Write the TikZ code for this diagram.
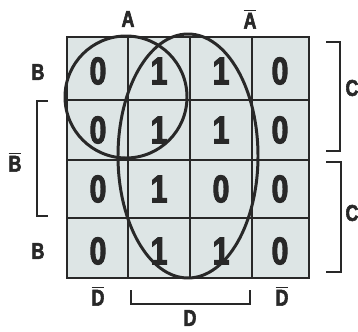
\documentclass[tikz,border=0pt]{standalone}
\usepackage{fontspec}
\setmainfont{Liberation Sans}[FakeStretch=0.78, BoldFeatures={FakeBold=2.5}]
\usepackage{tikz}
\usetikzlibrary{calc}

\definecolor{cellfill}{RGB}{221,229,229}
\definecolor{inkgray}{RGB}{40,40,40}

\begin{document}
\begin{tikzpicture}[x=0.02cm, y=-0.02cm,
  digit/.style={font=\fontsize{22}{22}\selectfont\bfseries, text=inkgray},
  lab/.style={font=\fontsize{13}{13}\selectfont\bfseries, text=inkgray},
  loop/.style={line width=1.7pt, draw=inkgray}]
\useasboundingbox (0,0) rectangle (358,331);
% grid corners
\coordinate (NW) at (67,37);
\coordinate (SE) at (309,278);
\fill[cellfill] (NW) rectangle (SE);
\draw[inkgray, line width=1pt] (NW) rectangle (SE);
\draw[inkgray, line width=1pt] (128,37) -- (128,278);
\draw[inkgray, line width=1pt] (190,37) -- (190,278);
\draw[inkgray, line width=1pt] (252,37) -- (252,278);
\draw[inkgray, line width=1pt] (67,100) -- (309,100);
\draw[inkgray, line width=1pt] (67,160) -- (309,160);
\draw[inkgray, line width=1pt] (67,218) -- (309,218);
% cell values
\node[digit] (a1) at (98,71) {0};
\node[digit] (b1) at (159,71) {1};
\node[digit] (c1) at (221,71) {1};
\node[digit] (d1) at (280,71) {0};
\node[digit] (a2) at (98,130) {0};
\node[digit] (b2) at (159,130) {1};
\node[digit] (c2) at (221,130) {1};
\node[digit] (d2) at (280,130) {0};
\node[digit] (a3) at (98,189) {0};
\node[digit] (b3) at (159,189) {1};
\node[digit] (c3) at (221,189) {0};
\node[digit] (d3) at (280,189) {0};
\node[digit] (a4) at (98,251) {0};
\node[digit] (b4) at (159,251) {1};
\node[digit] (c4) at (221,251) {1};
\node[digit] (d4) at (280,251) {0};
% groupings
\draw[loop] (126,97) circle (61);
\draw[loop] (188,156) ellipse (70 and 122);
% brackets
\draw[inkgray, line width=0.8pt] (48,101) -- (37,101) -- (37,216) -- (48,216);
\draw[inkgray, line width=0.8pt] (326,42) -- (340,42) -- (340,151) -- (326,151);
\draw[inkgray, line width=0.8pt] (326,162) -- (341,162) -- (341,272) -- (326,272);
\draw[inkgray, line width=0.8pt] (131,290) -- (131,304) -- (250,304) -- (250,290);
% labels
\node[lab] (lA) at (128,19) {A};
\node[lab] (lAbar) at (250,19) {$\overline{\mbox{A}}$};
\node[lab] (lB1) at (38,72) {B};
\node[lab] (lBbar) at (15,162) {$\overline{\mbox{B}}$};
\node[lab] (lB2) at (38,251) {B};
\node[lab, inner sep=0pt] (lC1) at (352,88) {C};
\node[lab, inner sep=0pt] (lC2) at (352,213) {C};
\node[lab] (lD1) at (98,296) {$\overline{\mbox{D}}$};
\node[lab] (lD2) at (282,296) {$\overline{\mbox{D}}$};
\node[lab, inner sep=0pt] (lD) at (190,318) {D};
\end{tikzpicture}
\end{document}
